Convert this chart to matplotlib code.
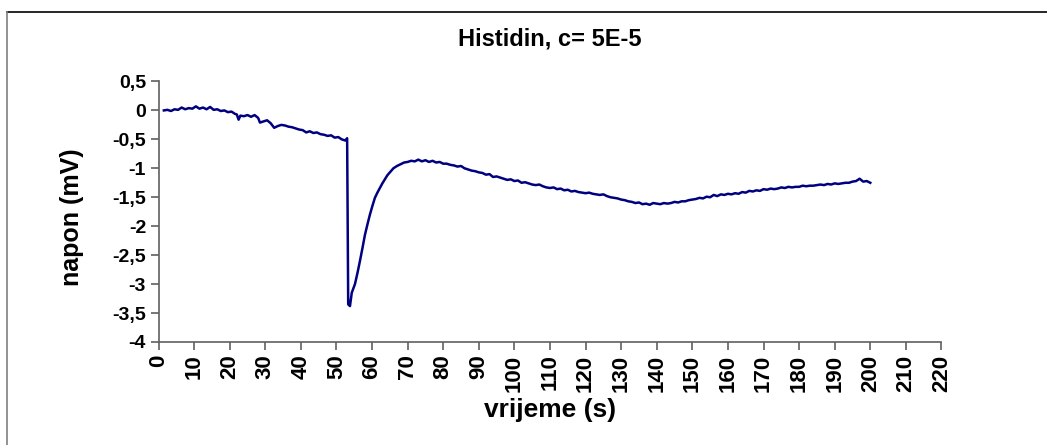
import matplotlib
matplotlib.use('Agg')
import matplotlib.pyplot as plt
from matplotlib.lines import Line2D
from matplotlib.ticker import FuncFormatter, MultipleLocator

plt.rcParams['font.family'] = ['Liberation Sans', 'DejaVu Sans']
plt.rcParams['font.weight'] = 'bold'

# vrijeme (s) / napon (mV)
time_s = [
    1.5, 2.5, 3.5, 4.5, 5.5, 6.5, 7.5, 8.5, 9.5, 10.5, 11.5, 12.5, 13.5, 14.5,
    15.5, 16.5, 17.5, 18.5, 19.5, 20.5, 21.5, 22.0, 22.5, 23.0, 24.0, 25.0,
    26.0, 27.0, 28.0, 28.5, 29.5, 30.5, 31.5, 32.5, 33.5, 34.5, 35.5, 36.5,
    37.5, 38.5, 39.5, 40.5, 41.5, 42.5, 43.5, 44.5, 45.5, 46.5, 47.5, 48.5,
    49.5, 50.5, 51.5, 52.5, 53.0, 53.3, 53.8, 54.3, 55.2, 56.0, 56.6, 57.3,
    58.0, 58.7, 59.4, 60.1, 60.8, 61.5, 62.2, 62.9, 63.6, 64.3, 65.0, 66.0,
    67.0, 68.0, 69.0, 70.0, 71.0, 72.0, 73.0, 74.0, 75.0, 76.0, 77.0, 78.0,
    79.0, 80.0, 81.0, 82.0, 83.0, 84.0, 85.0, 86.0, 87.0, 88.0, 89.0, 90.0,
    91, 92, 93, 94, 95, 96, 97, 98, 99, 100, 101, 102, 103, 104, 105, 106,
    107, 108, 109, 110, 111, 112, 113, 114, 115, 116, 117, 118, 119, 120,
    121, 122, 123, 124, 125, 126, 127, 128, 129, 130, 131, 132, 133, 134,
    135, 136, 137, 138, 139, 140, 141, 142, 143, 144, 145, 146, 147, 148,
    149, 150, 151, 152, 153, 154, 155, 156, 157, 158, 159, 160, 161, 162,
    163, 164, 165, 166, 167, 168, 169, 170, 171, 172, 173, 174, 175, 176,
    177, 178, 179, 180, 181, 182, 183, 184, 185, 186, 187, 188, 189, 190,
    191, 192, 193, 194, 195, 196, 197, 198, 199, 200,
]
napon_mv = [
    0.00, 0.01, -0.01, 0.02, 0.01, 0.05, 0.02, 0.04, 0.03, 0.07, 0.03, 0.05,
    0.02, 0.06, 0.01, 0.02, -0.01, 0.00, -0.03, -0.02, -0.06, -0.07, -0.16,
    -0.09, -0.10, -0.08, -0.11, -0.08, -0.13, -0.21, -0.19, -0.17, -0.22,
    -0.30, -0.27, -0.25, -0.26, -0.28, -0.29, -0.31, -0.33, -0.34, -0.38,
    -0.36, -0.39, -0.38, -0.41, -0.42, -0.44, -0.43, -0.47, -0.46, -0.50,
    -0.52, -0.48, -3.35, -3.38, -3.15, -3.00, -2.78, -2.60, -2.38, -2.15,
    -1.97, -1.80, -1.65, -1.51, -1.42, -1.34, -1.26, -1.19, -1.12, -1.07,
    -1.00, -0.96, -0.93, -0.90, -0.89, -0.87, -0.88, -0.85, -0.88, -0.86,
    -0.89, -0.87, -0.90, -0.89, -0.92, -0.92, -0.94, -0.95, -0.97, -0.96,
    -1.00, -1.02, -1.04, -1.05, -1.07,
    -1.08, -1.11, -1.10, -1.15, -1.14, -1.16, -1.18, -1.20, -1.19, -1.22,
    -1.21, -1.25, -1.24, -1.26, -1.28, -1.29, -1.28, -1.31, -1.33, -1.34,
    -1.33, -1.36, -1.35, -1.38, -1.37, -1.40, -1.39, -1.41, -1.42, -1.43,
    -1.42, -1.44, -1.45, -1.46, -1.45, -1.48, -1.50, -1.51, -1.52, -1.54,
    -1.55, -1.57, -1.58, -1.60, -1.59, -1.62, -1.61, -1.63, -1.60, -1.61,
    -1.62, -1.60, -1.61, -1.60, -1.58, -1.59, -1.57, -1.57, -1.55, -1.54,
    -1.53, -1.51, -1.52, -1.49, -1.50, -1.46, -1.48, -1.45, -1.46, -1.44,
    -1.45, -1.43, -1.44, -1.41, -1.42, -1.39, -1.40, -1.38, -1.39, -1.36,
    -1.37, -1.35, -1.36, -1.35, -1.33, -1.34, -1.32, -1.33, -1.32, -1.32,
    -1.30, -1.31, -1.30, -1.30, -1.29, -1.28, -1.29, -1.27, -1.28, -1.26,
    -1.27, -1.26, -1.25, -1.25, -1.23, -1.22, -1.18, -1.23, -1.22, -1.25,
]

x_ticks = list(range(0, 221, 10))
title = 'Histidin, c= 5E-5'

fig = plt.figure(figsize=(10.47, 4.45), dpi=100)
ax = fig.add_axes([0.1514, 0.2315, 0.7478, 0.5854])

ax.plot(time_s, napon_mv, color='#000080', linewidth=1.8)

ax.set_xlim(0, 220)
ax.set_ylim(-4, 0.5)
ax.set_xticks(x_ticks)
ax.yaxis.set_major_locator(MultipleLocator(0.5))
ax.yaxis.set_major_formatter(FuncFormatter(lambda v, p: f'{v:g}'.replace('.', ',')))

for s in ['top', 'right']:
    ax.spines[s].set_visible(False)
for s in ['left', 'bottom']:
    ax.spines[s].set_color('#606060')
    ax.spines[s].set_linewidth(1.2)
ax.tick_params(axis='both', direction='out', color='#606060', width=1.2,
               length=6, pad=3)
ax.tick_params(axis='y', labelsize=14)
ax.tick_params(axis='x', labelrotation=90, labelsize=16)

ax.set_xlabel('vrijeme (s)', fontsize=19, fontweight='bold')
ax.set_ylabel('napon (mV)', fontsize=18, fontweight='bold')
ax.xaxis.set_label_coords(0.5, -0.215)
ax.yaxis.set_label_coords(-0.095, 0.48)
ax.set_title(title, fontsize=17, fontweight='bold', pad=26)

# outer frame of the chart area
fig.add_artist(Line2D([7 / 1047, 1], [1 - 12 / 445, 1 - 12 / 445],
                      color='black', linewidth=1.2, transform=fig.transFigure))
fig.add_artist(Line2D([7 / 1047, 7 / 1047], [0, 1 - 12 / 445],
                      color='#808080', linewidth=1.2, transform=fig.transFigure))

fig.savefig('out.png', dpi=100)
